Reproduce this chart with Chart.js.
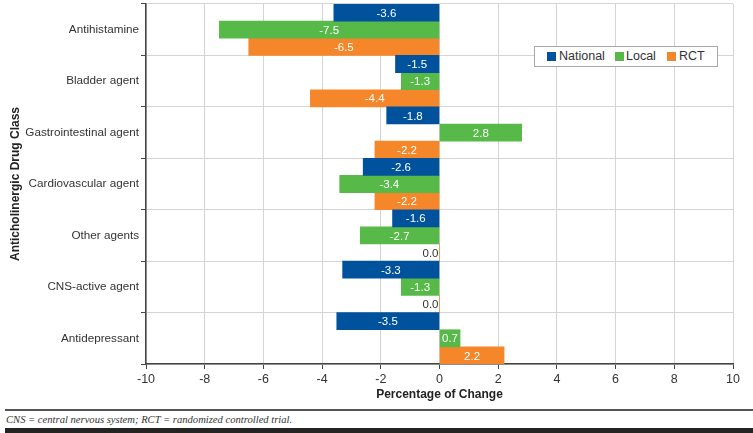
<!DOCTYPE html>
<html>
<head>
<meta charset="utf-8">
<script src="https://cdn.jsdelivr.net/npm/chart.js@4"></script>
<style>
  body { margin: 0; background: #fff; font-family: "Liberation Sans", Arial, sans-serif; }
  #wrap { position: relative; width: 753px; height: 433px; }
  #box { position: absolute; left: 0; top: 0; width: 753px; height: 402px; }
  #legend { position: absolute; left: 534px; top: 46px; width: 182px; height: 19px; border: 1px solid #a8a8a8; background: #fff; font-size: 12.5px; color: #333; }
  #legend span.sw { position: absolute; top: 5px; width: 9px; height: 9px; }
  #legend span.tx { position: absolute; top: 2px; line-height: 15px; }
  #rule { position: absolute; left: 5px; right: 0; top: 409px; height: 2px; background: #555; }
  #note { position: absolute; left: 6px; top: 413px; font: italic 10.6px "Liberation Serif", "DejaVu Serif", serif; color: #333; line-height: 14px; }
  #bar { position: absolute; left: 5px; right: 0; top: 428px; height: 5px; background: #232323; }
</style>
</head>
<body>
<div id="wrap">
  <div id="box"><canvas id="c"></canvas></div>
  <div id="legend"></div>
  <div id="rule"></div>
  <div id="note">CNS = central nervous system; RCT = randomized controlled trial.</div>
  <div id="bar"></div>
</div>
<script>
const categories = ['Antihistamine', 'Bladder agent', 'Gastrointestinal agent', 'Cardiovascular agent', 'Other agents', 'CNS-active agent', 'Antidepressant'];
const national = [-3.6, -1.5, -1.8, -2.6, -1.6, -3.3, -3.5];
const local = [-7.5, -1.3, 2.8, -3.4, -2.7, -1.3, 0.7];
const rct = [-6.5, -4.4, -2.2, -2.2, 0.0, 0.0, 2.2];
const seriesNames = ['National', 'Local', 'RCT'];
const seriesColors = ['#00529c', '#57b948', '#f5872a'];

// legend (html, sits inside the plot at top right)
const legendPos = [[12, 24], [80, 91], [132, 144]];
document.getElementById('legend').innerHTML = seriesNames.map((n, i) =>
  `<span class="sw" style="left:${legendPos[i][0]}px;background:${seriesColors[i]}"></span>` +
  `<span class="tx" style="left:${legendPos[i][1]}px">${n}</span>`).join('');

// value labels on bars
const barLabels = {
  id: 'barLabels',
  afterDatasetsDraw(chart) {
    const { ctx } = chart;
    ctx.save();
    ctx.font = '11.5px "Liberation Sans", Arial, sans-serif';
    ctx.textBaseline = 'middle';
    chart.data.datasets.forEach((ds, di) => {
      chart.getDatasetMeta(di).data.forEach((el, i) => {
        const v = ds.data[i];
        const txt = v.toFixed(1);
        if (v === 0) {
          ctx.fillStyle = '#333';
          ctx.textAlign = 'right';
          ctx.fillText(txt, el.base - 1, el.y + 1);
        } else {
          ctx.fillStyle = '#fff';
          ctx.textAlign = 'center';
          ctx.fillText(txt, (el.x + el.base) / 2, el.y + 1);
        }
      });
    });
    ctx.restore();
  }
};

Chart.defaults.font.family = '"Liberation Sans", Arial, sans-serif';
Chart.defaults.color = '#333';

new Chart(document.getElementById('c'), {
  type: 'bar',
  data: {
    labels: categories,
    datasets: [national, local, rct].map((d, i) => ({
      label: seriesNames[i], data: d, backgroundColor: seriesColors[i],
      barPercentage: 1, categoryPercentage: 1,
    })),
  },
  options: {
    indexAxis: 'y',
    responsive: true, maintainAspectRatio: false, animation: false,
    layout: { padding: { top: 4, right: 20, left: 0, bottom: 0 } },
    plugins: { legend: { display: false }, tooltip: { enabled: false } },
    scales: {
      x: {
        min: -10, max: 10,
        ticks: { stepSize: 2, color: '#333', font: { size: 12.5 }, padding: 3 },
        grid: { color: '#d4d4d4', tickColor: '#444', tickLength: 5 },
        border: { color: '#444', width: 1.5 },
        title: { display: true, text: 'Percentage of Change', color: '#222', font: { size: 12, weight: 'bold' }, padding: { top: 2, bottom: 0 } },
        afterFit: s => { s.height = 38; },
      },
      y: {
        ticks: { color: '#333', font: { size: 11.7 }, padding: 2 },
        grid: { color: '#d4d4d4', tickColor: '#444', tickLength: 5, offset: true },
        border: { color: '#444', width: 1.5 },
        title: { display: true, text: 'Anticholinergic Drug Class', color: '#222', font: { size: 12, weight: 'bold' }, padding: { top: 8, bottom: 0 } },
        afterFit: s => { s.width = 146; s.paddingTop = 0; s.paddingBottom = 0; },
      },
    },
  },
  plugins: [barLabels],
});
</script>
</body>
</html>
